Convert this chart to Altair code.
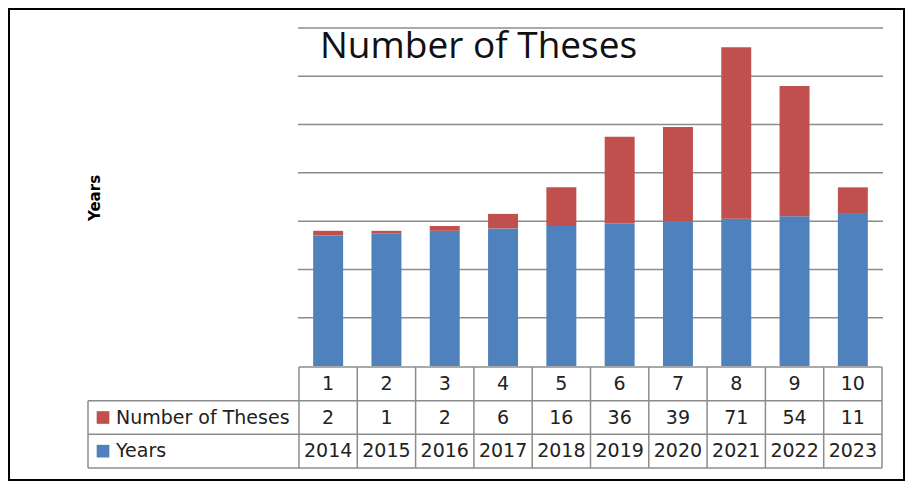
import altair as alt
import pandas as pd

# ---- data ----
idx = [1, 2, 3, 4, 5, 6, 7, 8, 9, 10]
years = [2014, 2015, 2016, 2017, 2018, 2019, 2020, 2021, 2022, 2023]
theses = [2, 1, 2, 6, 16, 36, 39, 71, 54, 11]
series_names = ["Number of Theses", "Years"]
series_colors = ["#C0504D", "#4F81BD"]
title_text = "Number of Theses"
y_title = "Years"
y_min, y_max, y_step = 1960, 2100, 20

# ---- layout constants (pixels inside the framed view) ----
W, H = 897, 473
PX0, PX1 = 291, 874          # plot / table data columns
PY0, PY1 = 20, 358           # plot area top / bottom
TY0, TY1 = 359, 460          # table top / bottom
LEG_X0 = 80                  # legend column left edge
GRID = "#8c8c8c"
FONT = "DejaVu Sans"

df = pd.DataFrame({"idx": idx, "Years": years, "Theses": theses})
df["Top"] = df["Years"] + df["Theses"]

yscale = alt.Scale(domain=[y_min, y_max], range=[PY1, PY0], zero=False, nice=False)
xbar = alt.Scale(domain=idx, range=[PX0, PX1], paddingInner=0.486, paddingOuter=0.243)
xcol = alt.Scale(domain=idx, range=[PX0, PX1], paddingInner=0, paddingOuter=0)
rowscale = alt.Scale(domain=[0, 3], range=[TY0, TY1], zero=False, nice=False)

# gridlines
grid_df = pd.DataFrame({"g": list(range(y_min + y_step, y_max + 1, y_step))})
grid = alt.Chart(grid_df).mark_rule(color=GRID, strokeWidth=1.5).encode(
    y=alt.Y("g:Q", scale=yscale, axis=None),
    x=alt.value(PX0 - 1), x2=alt.value(PX1 + 1),
)

blue = alt.Chart(df).mark_bar(color=series_colors[1]).encode(
    x=alt.X("idx:O", scale=xbar, axis=None),
    y=alt.Y("Years:Q", scale=yscale, axis=None),
    y2=alt.Y2Datum(y_min),
)
red = alt.Chart(df).mark_bar(color=series_colors[0]).encode(
    x=alt.X("idx:O", scale=xbar, axis=None),
    y=alt.Y("Top:Q", scale=yscale, axis=None),
    y2="Years:Q",
)

# table cells
cells = pd.concat([
    pd.DataFrame({"col": idx, "row": 0.5, "label": [str(v) for v in idx]}),
    pd.DataFrame({"col": idx, "row": 1.5, "label": [str(v) for v in theses]}),
    pd.DataFrame({"col": idx, "row": 2.5, "label": [str(v) for v in years]}),
])
cell_text = alt.Chart(cells).mark_text(font=FONT, fontSize=19, color="#222222", baseline="middle", align="center").encode(
    x=alt.X("col:O", scale=xcol, axis=None),
    y=alt.Y("row:Q", scale=rowscale, axis=None),
    text="label:N",
)

# table lines
col_df = pd.DataFrame({"col": idx})
vlines = alt.Chart(col_df).mark_rule(color=GRID, strokeWidth=1.5).encode(
    x=alt.X("col:O", scale=xcol, axis=None, bandPosition=0),
    y=alt.YDatum(0, scale=rowscale, axis=None), y2=alt.Y2Datum(3),
)
vlast = alt.Chart(pd.DataFrame({"col": [idx[-1]]})).mark_rule(color=GRID, strokeWidth=1.5).encode(
    x=alt.X("col:O", scale=xcol, axis=None, bandPosition=1),
    y=alt.YDatum(0, scale=rowscale, axis=None), y2=alt.Y2Datum(3),
)
vleg = alt.Chart(pd.DataFrame({"r": [1]})).mark_rule(color=GRID, strokeWidth=1.5).encode(
    x=alt.value(LEG_X0),
    y=alt.Y("r:Q", scale=rowscale, axis=None), y2=alt.Y2Datum(3),
)
htop = alt.Chart(pd.DataFrame({"r": [0]})).mark_rule(color=GRID, strokeWidth=1.5).encode(
    y=alt.Y("r:Q", scale=rowscale, axis=None),
    x=alt.value(PX0), x2=alt.value(PX1),
)
hrest = alt.Chart(pd.DataFrame({"r": [1, 2, 3]})).mark_rule(color=GRID, strokeWidth=1.5).encode(
    y=alt.Y("r:Q", scale=rowscale, axis=None),
    x=alt.value(LEG_X0), x2=alt.value(PX1),
)

# legend column
leg_df = pd.DataFrame({"name": series_names, "row": [1.5, 2.5]})
leg_sq = alt.Chart(leg_df).mark_square(size=160, opacity=1).encode(
    x=alt.value(95),
    y=alt.Y("row:Q", scale=rowscale, axis=None),
    color=alt.Color("name:N", scale=alt.Scale(domain=series_names, range=series_colors), legend=None),
)
leg_txt = alt.Chart(leg_df).mark_text(font=FONT, fontSize=19, color="#222222", align="left", baseline="middle").encode(
    x=alt.value(108),
    y=alt.Y("row:Q", scale=rowscale, axis=None),
    text="name:N",
)

title = alt.Chart(pd.DataFrame({"t": [title_text]})).mark_text(
    font="Open Sans", fontSize=37, color="#111111", align="left", baseline="alphabetic"
).encode(x=alt.value(312), y=alt.value(50), text="t:N")

ytitle = alt.Chart(pd.DataFrame({"t": [y_title]})).mark_text(
    font=FONT, fontSize=15, fontWeight="bold", color="#000000", angle=270, align="center", baseline="middle"
).encode(x=alt.value(87), y=alt.value(190), text="t:N")

chart = alt.layer(
    grid, blue, red, cell_text, vlines, vlast, vleg, htop, hrest, leg_sq, leg_txt, title, ytitle
).resolve_scale(
    x="independent", y="independent", color="independent"
).properties(
    width=W, height=H, padding=0, autosize="none", background="white"
).configure_view(stroke="#000000", strokeWidth=4)

chart.save("out.html", embed_options={"renderer": "svg", "actions": False})
